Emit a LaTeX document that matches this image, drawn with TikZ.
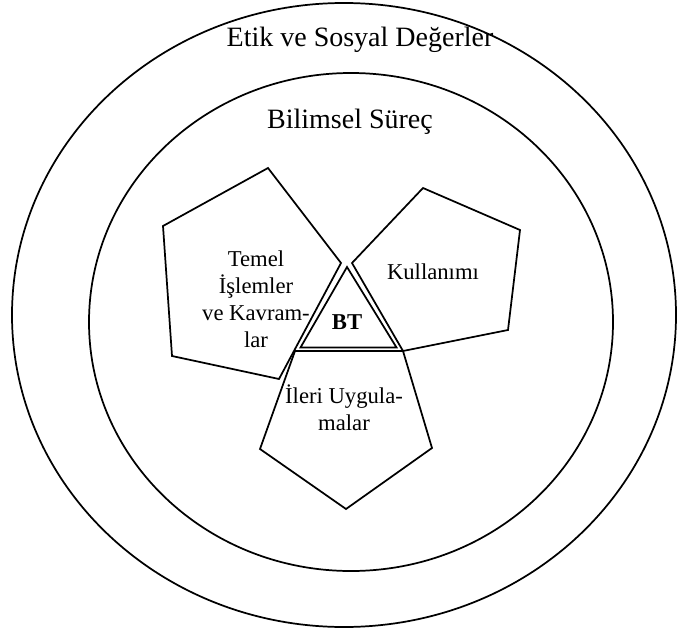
\documentclass[tikz,border=0pt]{standalone}
\usepackage{fontspec}
\setmainfont{Liberation Serif}
\usepackage{tikz}
\definecolor{diagLine}{HTML}{000000}

\begin{document}
\begin{tikzpicture}[x=0.75pt, y=-0.75pt,
    ring/.style={draw=diagLine, line width=1.3pt},
    penta/.style={draw=diagLine, line width=1.3pt, line join=miter},
    ringtext/.style={font=\fontsize{21}{25}\selectfont},
    pentatext/.style={font=\fontsize{17}{20.3}\selectfont, align=center}]
    \useasboundingbox (0,0) rectangle (677,635);
    % two rings
    \draw[ring] (344,315) ellipse [x radius=332, y radius=312];
    \draw[ring] (351,322) ellipse [x radius=262, y radius=249];
    \node[ringtext] (etik) at (360,40) {Etik ve Sosyal Değerler};
    \node[ringtext] (surec) at (350,122) {Bilimsel Süreç};
    % three pentagons round the triangle
    \draw[penta] (163,226) -- (268,168) -- (341,263) -- (279,379) -- (172,356) -- cycle;
    \draw[penta] (352,263) -- (423,188) -- (520,230) -- (508,330) -- (403,351) -- cycle;
    \draw[penta] (295,351) -- (403,351) -- (432,448) -- (346,509) -- (260,449) -- cycle;
    % centre triangle
    \draw[penta] (347,267) -- (396.5,347.5) -- (300.5,347.5) -- cycle;
    \node[pentatext] (temel) at (256,299) {Temel\\İşlemler\\ve Kavram-\\lar};
    \node[pentatext] (kullanim) at (433,272) {Kullanımı};
    \node[pentatext] (ileri) at (344,408) {İleri Uygula-\\malar};
    \node[pentatext, font=\fontsize{17}{20.3}\selectfont\bfseries] (bt) at (347,322) {BT};
\end{tikzpicture}
\end{document}
